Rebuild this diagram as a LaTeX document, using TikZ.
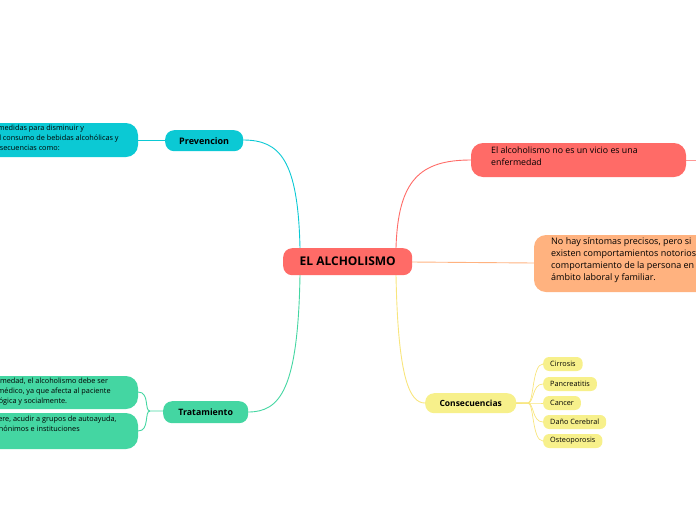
\documentclass[tikz,border=0pt]{standalone}
\usepackage{fontspec}
\setmainfont{Open Sans}
\definecolor{cred}{HTML}{FF6B67}
\definecolor{cteal}{HTML}{0BC9D4}
\definecolor{cgreen}{HTML}{44D6A2}
\definecolor{corange}{HTML}{FFB27F}
\definecolor{cyel}{HTML}{F7F08B}
\begin{document}
\begin{tikzpicture}[x=1pt,y=-1pt,
  box/.style={rounded corners=9pt,inner sep=0pt,anchor=north west},
  t/.style={align=left,anchor=north west,inner sep=0pt},
  leaf/.style={rounded corners=6pt,fill=cyel,font=\fontsize{7.3}{8}\selectfont,minimum height=14pt,inner xsep=7pt,anchor=west}]
\useasboundingbox (0,0) rectangle (696,520);
\clip (0,0) rectangle (696,520);
% connectors
\draw[cteal,line width=0.9pt] (300,248) .. controls (298,160) and (280,140) .. (243,140);
\draw[cteal,line width=0.9pt] (165,140) -- (138,140);
\draw[cgreen,line width=0.9pt] (300,275) .. controls (298,390) and (280,412) .. (248,412);
\draw[cgreen,line width=0.9pt] (163,411) -- (150,411) .. controls (144,411) and (150,392) .. (138,392);
\draw[cgreen,line width=0.9pt] (150,411) .. controls (144,411) and (150,431) .. (138,431);
\draw[cred,line width=0.9pt] (396,248) .. controls (398,180) and (420,160) .. (471,160);
\draw[cred!70,line width=0.9pt] (686,160) -- (696,160);
\draw[corange,line width=0.9pt] (412,262) -- (534,263);
\draw[cyel!90!orange,line width=0.9pt] (396,275) .. controls (398,380) and (410,403) .. (425,403);
\foreach \y in {364,384,403,422,441}
  \draw[cyel!90!orange,line width=0.7pt] (516,403) -- (528,403) .. controls (534,403) and (532,\y) .. (543,\y);
% nodes
\node[box,fill=cred,minimum width=129pt,minimum height=27pt,font=\bfseries\fontsize{12}{13}\selectfont] (c) at (283,248) {EL ALCHOLISMO};
\node[box,fill=cteal,minimum width=78pt,minimum height=21pt,font=\bfseries\fontsize{9}{10}\selectfont] (p) at (165,130) {Prevencion};
\fill[cteal,rounded corners=12pt] (-100,123) rectangle (138,157);
\node[t,font=\fontsize{7.3}{10}\selectfont] (pt) at (-26,125) {Tomar medidas para disminuir y\\ evitar el consumo de bebidas alcohólicas y\\ sus consecuencias como:};
\node[box,fill=cgreen,minimum width=85pt,minimum height=22pt,font=\bfseries\fontsize{8.8}{10}\selectfont] (tr) at (163,401) {Tratamiento};
\fill[cgreen,rounded corners=12pt] (-100,376) rectangle (138,409);
\fill[cgreen,rounded corners=12pt] (-100,413) rectangle (138,449);
\node[t,font=\fontsize{7.3}{10}\selectfont] (t1) at (-54,378) {Al ser una enfermedad, el alcoholismo debe ser\\ tratado por un médico, ya que afecta al paciente\\ de forma psicológica y socialmente.};
\node[t,font=\fontsize{7.3}{10}\selectfont] (t2) at (-45,416) {Si se lo requiere, acudir a grupos de autoayuda,\\ alcohólicos anónimos e instituciones};
\fill[cred,rounded corners=12pt] (471,143) rectangle (686,177);
\node[t,font=\fontsize{8.8}{11.5}\selectfont] (r) at (491,147) {El alcoholismo no es un vicio es una\\ enfermedad};
\fill[corange,rounded corners=12pt] (534,235) rectangle (760,292);
\node[t,font=\fontsize{9}{12}\selectfont] (o) at (551,237) {No hay síntomas precisos, pero si\\ existen comportamientos notorios en el\\ comportamiento de la persona en el\\ ámbito laboral y familiar.};
\node[box,fill=cyel,minimum width=91pt,minimum height=20pt,font=\bfseries\fontsize{8.5}{9}\selectfont] (co) at (425,393) {Consecuencias};
\node[leaf] (l1) at (543,364) {Cirrosis};
\node[leaf] (l2) at (543,384) {Pancreatitis};
\node[leaf] (l3) at (543,403) {Cancer};
\node[leaf] (l4) at (543,422) {Daño Cerebral};
\node[leaf] (l5) at (543,441) {Osteoporosis};
\end{tikzpicture}
\end{document}
